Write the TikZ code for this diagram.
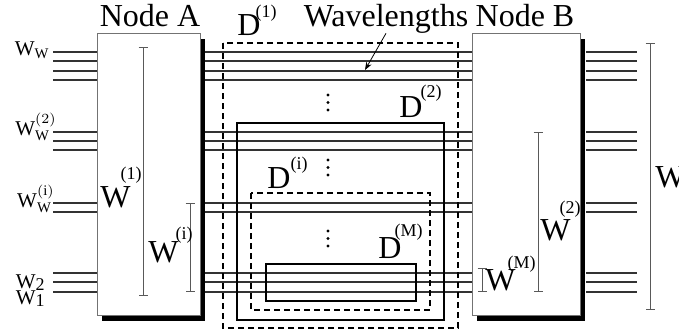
\documentclass[tikz,border=0pt]{standalone}
\usepackage{fontspec}
\setmainfont{Liberation Serif}
\usetikzlibrary{arrows.meta,shadows}
\DeclareMathSizes{10}{10}{7}{5}
% base letter with a raised (index) on top of it
\newcommand\hatlbl[4]{#1\kern#2\raisebox{#3}{\fontsize{9}{10}\selectfont(#4)}}

\begin{document}
\begin{tikzpicture}[x=0.5pt, y=-0.5pt, font=\fontsize{16}{18}\selectfont,
  box/.style={draw=black!55, fill=white, line width=0.5pt, anchor=north west,
    inner sep=0pt, minimum height=141pt,
    drop shadow={shadow xshift=2pt, shadow yshift=-2.5pt, fill=black, opacity=1}},
  lam/.style={black!80, line width=0.55pt},
  span/.style={black!65, line width=0.5pt, {Bar[width=4.5pt]}-{Bar[width=4.5pt]}},
  lbl/.style={anchor=base west, inner sep=0pt},
  wlbl/.style={anchor=base east, inner sep=0pt, font=\fontsize{10.5}{12}\selectfont},
  region/.style={line width=0.8pt},
  gap/.style={region, dash pattern=on 3pt off 2pt}]
  \useasboundingbox (0,0) rectangle (679,333);

  \node[box, minimum width=51.5pt] (nodeA) at (97,33) {};
  \node[box, minimum width=54pt] (nodeB) at (472,33) {};
  \node[anchor=base, inner sep=0pt] (nameA) at (150,26) {Node A};
  \node[anchor=base, inner sep=0pt] (nameB) at (525,26) {Node B};
  \node[anchor=base, inner sep=0pt] (wl) at (386,26) {Wavelengths};

  \coordinate (aout) at ([xshift=2pt]nodeA.east);
  \coordinate (bout) at ([xshift=2.5pt]nodeB.east);
  \foreach \y in {52,61,71,80,132,141,150,203,212,273,282,292} {
    \draw[lam] (53,\y) -- (nodeA.west |- 0,\y);
    \draw[lam] (aout |- 0,\y) -- (nodeB.west |- 0,\y);
    \draw[lam] (bout |- 0,\y) -- (637,\y);
  }

  % input wavelengths
  \node[wlbl] (ww) at (50,55) {$\mathrm{W}_\mathrm{W}$};
  \node[wlbl] (ww2) at (57,135) {$\mathrm{W}_\mathrm{W}^{(2)}$};
  \node[wlbl] (wwi) at (55,207) {$\mathrm{W}_\mathrm{W}^{(\mathrm{i})}$};
  \node[wlbl] (w2) at (45,288) {W\raisebox{-1pt}{\fontsize{9}{10}\selectfont 2}};
  \node[wlbl] (w1) at (45,304) {W\raisebox{-1pt}{\fontsize{9}{10}\selectfont 1}};

  % wavelength sets
  \draw[span] (143,47) -- (143,296);
  \draw[span] (190,203) -- (190,292);
  \draw[span] (538,132) -- (538,292);
  \draw[span] (482,268) -- (482,292);
  \draw[span] (650,43) -- (650,310);
  \node[lbl] (wone) at (100,207) {\hatlbl{W}{-5pt}{14pt}{1}};
  \node[lbl] (wi) at (148,262) {\hatlbl{W}{-1.5pt}{11.5pt}{i}};
  \node[lbl] (wtwo) at (540,240) {\hatlbl{W}{-5.5pt}{13.5pt}{2}};
  \node[lbl] (wm) at (485,290) {\hatlbl{W}{-4pt}{11pt}{M}};
  \node[lbl] (wall) at (655,187) {W};

  % nested domains
  \draw[gap] (223,43) rectangle (458,328);
  \draw[region] (237,123) rectangle (444,320);
  \draw[gap] (251,193) rectangle (430,310);
  \draw[region] (266,264) rectangle (416,301);
  \node[lbl] (d1) at (237,35) {\hatlbl{D}{-2.5pt}{9pt}{1}};
  \node[lbl] (d2) at (399,117) {\hatlbl{D}{-1pt}{10pt}{2}};
  \node[lbl] (di) at (267,188) {\hatlbl{D}{0pt}{9.5pt}{i}};
  \node[lbl] (dm) at (378,258) {\hatlbl{D}{-3.5pt}{11pt}{M}};
  \foreach \y in {95,102.5,110,160,167.5,175,231,238.5,246}
    \fill (328,\y) circle (0.8pt);

  \coordinate (lam3) at (365,70);
  \draw[-{Stealth[length=4pt,width=3pt]}, line width=0.4pt] (wl.south) -- (lam3);
\end{tikzpicture}
\end{document}
